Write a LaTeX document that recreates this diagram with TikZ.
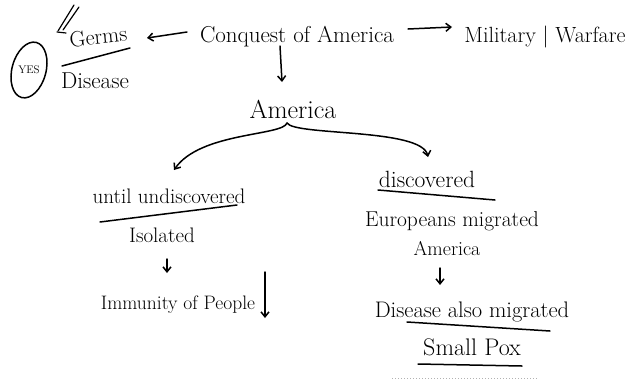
\documentclass[tikz,border=0pt]{standalone}
\usetikzlibrary{arrows.meta}
\begin{document}
\begin{tikzpicture}[x=1pt,y=-1pt,
  txt/.style={inner sep=0pt, anchor=base, font=\fontsize{#1}{#1}\selectfont},
  ink/.style={line width=1.5pt, line cap=round, line join=round},
  arr/.style={ink, -{Straight Barb[length=5pt,width=8pt]}}]
\useasboundingbox (0,0) rectangle (637,383);
% top row
\node[txt=23] (conq) at (297,42) {Conquest of America};
\node[txt=22] (mil) at (545,42) {Military | Warfare};
\node[txt=22, rotate=6] (germs) at (99,44) {Germs};
\node[txt=23] (dis) at (95,88) {Disease};
\draw[ink] (62,66) -- (130,48);
\node[inner sep=0pt, font=\fontsize{11}{11}\selectfont] (yestxt) at (29,70) {YES};
\draw[ink, rotate around={-15:(yestxt.center)}] (yestxt.center) ellipse [x radius=17, y radius=28.5];
% check mark
\draw[ink, line width=1.2pt] (74,5) -- (58,31);
\draw[ink, line width=1.2pt] (79,7) -- (63,30);
\draw[ink, line width=1.2pt] (57,32) -- (66,33);
% arrows top
\coordinate (c1) at (187,32);
\coordinate (g1) at (147,38);
\draw[arr] (c1) -- (g1);
\coordinate (c2) at (408,29);
\coordinate (m1) at (452,27);
\draw[arr] (c2) -- (m1);
\node[txt=26] (am) at (293,118) {America};
\coordinate (d1) at (280,46);
\coordinate (d2) at (282,82);
\draw[arr] (d1) -- (d2);
% brace
\coordinate (peak) at (287,123);
\node[txt=21] (undis) at (169,203) {until undiscovered};
\node[txt=23.5] (disc) at (427,187) {discovered};
\coordinate (bl) at (174,170);
\coordinate (br) at (428,157);
\draw[arr] (peak) .. controls (283,136) and (200,132) .. (bl);
\draw[arr] (peak) .. controls (295,136) and (422,128) .. (br);
% left branch
\draw[ink] (100,222) -- (237,205);
\node[txt=21] (iso) at (162,242) {Isolated};
\coordinate (i1) at (167,259);
\coordinate (i2) at (167,273);
\draw[arr] (i1) -- (i2);
\node[txt=19.5] (imm) at (178,309) {Immunity of People};
\coordinate (p1) at (265,272);
\coordinate (p2) at (265,318);
\draw[arr] (p1) -- (p2);
% right branch
\draw[ink] (378,190) -- (495,200);
\node[txt=21.5] (euro) at (452,226) {Europeans migrated};
\node[txt=20] (am2) at (447,255) {America};
\coordinate (e1) at (440,268);
\coordinate (e2) at (440,285);
\draw[arr] (e1) -- (e2);
\node[txt=22.5] (dmig) at (472,317) {Disease also migrated};
\draw[ink] (407,322) -- (550,331);
\node[txt=24] (pox) at (472,355) {Small Pox};
\draw[ink] (418,364) -- (522,366);
\draw[gray!60, dotted, line width=1pt] (392,378) -- (537,378);
\end{tikzpicture}
\end{document}
